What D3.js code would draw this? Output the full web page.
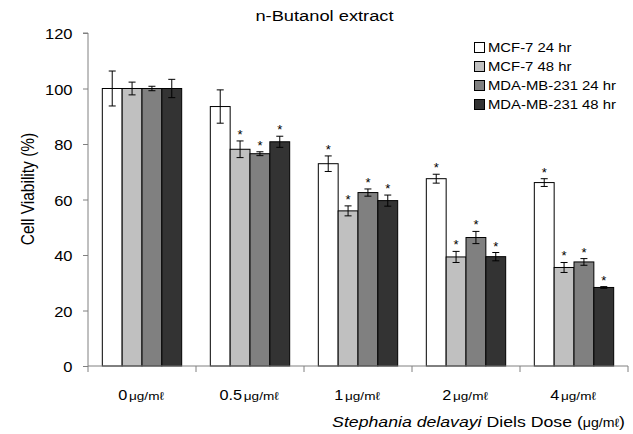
<!DOCTYPE html>
<html>
<head>
<meta charset="utf-8">
<script src="https://cdn.jsdelivr.net/npm/d3@7"></script>
<style>
  body { margin: 0; background: #fff; }
  text { font-family: "Liberation Sans", Arial, sans-serif; fill: #000; }
</style>
</head>
<body>
<svg id="chart"></svg>
<script>
const width = 633, height = 434
const margin = {top: 33, right: 5, bottom: 68, left: 88}
const SX = 1.18 // the original text is a bit wider than it is tall

const doses = ["0", "0.5", "1", "2", "4"]
const series = ["MCF-7 24 hr", "MCF-7 48 hr", "MDA-MB-231 24 hr", "MDA-MB-231 48 hr"]
const colors = ["#ffffff", "#c0c0c0", "#808080", "#333333"]
// rows follow doses, columns follow series
const values = [
  [100, 100, 100, 100],
  [93.5, 78.1, 76.5, 80.8],
  [72.9, 55.9, 62.5, 59.6],
  [67.5, 39.3, 46.3, 39.4],
  [66.1, 35.5, 37.5, 28.3]
]
const errors = [
  [6.3, 2.3, 0.8, 3.3],
  [6.0, 3.0, 0.7, 2.0],
  [2.8, 1.8, 1.3, 2.0],
  [1.6, 2.0, 2.2, 1.5],
  [1.4, 1.8, 1.2, 0.3]
]
const signif = [
  [false, false, false, false],
  [false, true, true, true],
  [true, true, true, true],
  [true, true, true, true],
  [true, true, true, true]
]
const yTicks = [0, 20, 40, 60, 80, 100, 120]

const svg = d3.select("#chart").attr("width", width).attr("height", height)

// put a text at (x,y) and widen it a little
function placeText(parent, x, y, size) {
    return parent.append("text")
        .attr("transform", `translate(${x},${y}) scale(${SX},1)`)
        .style("font-size", size + "px")
        .attr("fill", "#000")
}

const x = d3.scaleBand().domain(doses)
    .range([margin.left, width - margin.right])
    .paddingInner(0.265).paddingOuter(0.1325)
const xs = d3.scaleBand().domain(series).range([0, x.bandwidth()])
const y = d3.scaleLinear().domain([0, 120]).range([height - margin.bottom, margin.top])

// y axis
const yAxis = svg.append("g")
    .attr("transform", `translate(${margin.left},0)`)
    .call(d3.axisLeft(y).tickValues(yTicks).tickSize(5).tickPadding(5))
yAxis.selectAll("path, line").attr("stroke", "#808080")
yAxis.select(".domain").attr("d", `M-5,${y(120)}H0V${y(0)}`)
yAxis.selectAll("text")
    .attr("x", null).attr("dy", null)
    .attr("transform", `translate(-15.5,5.5) scale(${SX},1)`)
    .style("font-size", "14px")
    .attr("fill", "#000")

// bars
const groups = svg.append("g").selectAll("g")
    .data(doses)
    .join("g")
    .attr("transform", d => `translate(${x(d)},0)`)

const cells = groups.selectAll("g")
    .data((d, i) => series.map((s, j) => ({s, j, v: values[i][j], e: errors[i][j], sig: signif[i][j]})))
    .join("g")

cells.append("rect")
    .attr("x", d => xs(d.s))
    .attr("y", d => y(d.v))
    .attr("width", xs.bandwidth())
    .attr("height", d => y(0) - y(d.v))
    .attr("fill", d => colors[d.j])
    .attr("stroke", "#000")
    .attr("stroke-width", 1)

// error bars
const cx = d => xs(d.s) + xs.bandwidth() / 2
cells.append("line")
    .attr("x1", cx).attr("x2", cx)
    .attr("y1", d => y(d.v + d.e)).attr("y2", d => y(d.v - d.e))
    .attr("stroke", "#000")
cells.append("line")
    .attr("x1", d => cx(d) - 3.5).attr("x2", d => cx(d) + 3.5)
    .attr("y1", d => y(d.v + d.e)).attr("y2", d => y(d.v + d.e))
    .attr("stroke", "#000")
cells.append("line")
    .attr("x1", d => cx(d) - 3.5).attr("x2", d => cx(d) + 3.5)
    .attr("y1", d => y(d.v - d.e)).attr("y2", d => y(d.v - d.e))
    .attr("stroke", "#000")

// significance stars
cells.filter(d => d.sig).append("text")
    .attr("x", cx)
    .attr("y", d => y(d.v + d.e) - 2)
    .attr("text-anchor", "middle")
    .attr("fill", "#000")
    .style("font-size", "13px")
    .text("*")

// x axis
const xAxisG = svg.append("g").attr("transform", `translate(0,${y(0)})`)
xAxisG.append("line")
    .attr("x1", margin.left).attr("x2", width - margin.right)
    .attr("stroke", "#808080")
const xEdges = doses.map(d => x(d) - x.step() * x.paddingOuter())
xEdges.push(width - margin.right)
xAxisG.selectAll(".tick")
    .data(xEdges)
    .join("line")
    .attr("x1", d => d).attr("x2", d => d)
    .attr("y1", 0).attr("y2", 6)
    .attr("stroke", "#808080")

const labelG = svg.append("g")
doses.forEach(d => {
    const t = placeText(labelG, x(d) + x.bandwidth() / 2 - 1, y(0) + 33.5, 13.8)
        .attr("text-anchor", "middle")
    t.append("tspan").text(d)
    t.append("tspan").attr("dx", 1.5).style("font-size", "11.5px").text("μg/mℓ")
})

// axis titles
svg.append("text")
    .attr("transform", `translate(34,189) rotate(-90) scale(1,${SX})`)
    .attr("text-anchor", "middle")
    .attr("fill", "#000")
    .style("font-size", "15.5px")
    .text("Cell Viability (%)")

const xt = placeText(svg, 625, 426.5, 15).attr("text-anchor", "end")
xt.append("tspan").style("font-style", "italic").text("Stephania delavayi")
xt.append("tspan").text(" Diels Dose (")
xt.append("tspan").style("font-size", "12px").text("μg/mℓ")
xt.append("tspan").text(")")

placeText(svg, 324.5, 21, 15.5)
    .attr("text-anchor", "middle")
    .text("n-Butanol extract")

// legend
const legend = svg.append("g").attr("transform", "translate(474.5,42.5)")
series.forEach((s, i) => {
    const row = legend.append("g").attr("transform", `translate(0,${i * 19})`)
    row.append("rect")
        .attr("width", 10).attr("height", 10)
        .attr("fill", colors[i])
        .attr("stroke", "#000")
    placeText(row, 13.5, 9.5, 12.6).text(s)
})
</script>
</body>
</html>
